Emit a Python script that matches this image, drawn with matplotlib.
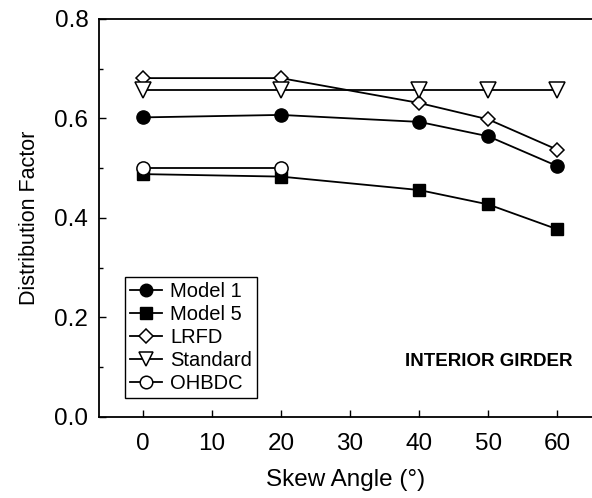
import matplotlib
matplotlib.use("Agg")
import matplotlib.pyplot as plt
from matplotlib.ticker import MultipleLocator, FormatStrFormatter

plt.rcParams['font.family'] = ['Liberation Sans', 'DejaVu Sans']

# valeurs
skew = [0, 20, 40, 50, 60]
model1 = [0.602, 0.607, 0.593, 0.564, 0.504]
model5 = [0.488, 0.483, 0.456, 0.427, 0.377]
lrfd = [0.681, 0.681, 0.631, 0.598, 0.537]
standard = [0.657, 0.657, 0.657, 0.657, 0.657]
skew_ohbdc = [0, 20]
ohbdc = [0.500, 0.500]

fig = plt.figure(figsize=(5.92, 4.98), dpi=100)
ax = fig.add_axes([0.168, 0.163, 0.832, 0.799])

lw = 1.3
ax.plot(skew, model1, '-o', color='black', lw=lw, ms=9.5, mfc='black', label='Model 1')
ax.plot(skew, model5, '-s', color='black', lw=lw, ms=9, mfc='black', label='Model 5')
ax.plot(skew, lrfd, '-D', color='black', lw=lw, ms=7.5, mfc='white', mew=1.1, label='LRFD')
ax.plot(skew, standard, '-v', color='black', lw=lw, ms=11, mfc='white', mew=1.1, label='Standard')
ax.plot(skew_ohbdc, ohbdc, '-o', color='black', lw=lw, ms=9.5, mfc='white', mew=1.1, label='OHBDC')

ax.set_xlim(-6.25, 65)
ax.set_ylim(0, 0.8)
ax.set_xticks([0, 10, 20, 30, 40, 50, 60])
ax.yaxis.set_major_locator(MultipleLocator(0.2))
ax.yaxis.set_minor_locator(MultipleLocator(0.1))
ax.yaxis.set_major_formatter(FormatStrFormatter('%.1f'))
ax.tick_params(which='both', direction='in', labelsize=17.5, width=1)
ax.tick_params(which='major', length=5)
ax.tick_params(which='minor', length=3)
ax.tick_params(axis='x', pad=12)
ax.tick_params(axis='y', pad=8)
ax.spines['right'].set_visible(False)
for s in ['left', 'top', 'bottom']:
    ax.spines[s].set_linewidth(1.3)

ax.set_xlabel('Skew Angle (°)', fontsize=17.5, labelpad=10)
ax.set_ylabel('Distribution Factor', fontsize=15.5, labelpad=10)

ax.text(0.961, 0.138, 'INTERIOR GIRDER', transform=ax.transAxes, fontsize=13.5,
        fontweight='bold', ha='right', va='center')

leg = ax.legend(loc='lower left', bbox_to_anchor=(0.052, 0.048), fontsize=14.5,
                handlelength=1.6, handletextpad=0.4, labelspacing=0.2,
                borderpad=0.25, borderaxespad=0, fancybox=False, framealpha=1,
                edgecolor='black', markerscale=0.95)
leg.get_frame().set_linewidth(1.0)

fig.savefig('out.png', dpi=100)
